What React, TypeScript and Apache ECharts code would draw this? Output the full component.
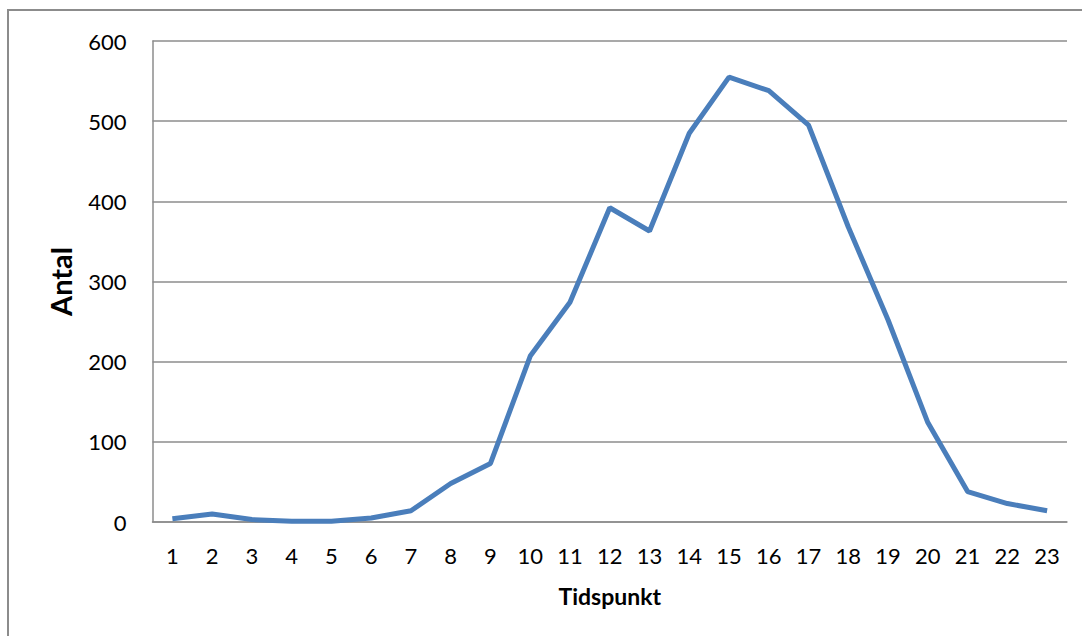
import React, { useEffect, useRef } from "react";
import * as echarts from "echarts";

const categories = ["1","2","3","4","5","6","7","8","9","10","11","12","13","14","15","16","17","18","19","20","21","22","23"];
const antal = [4, 10, 3, 1, 1, 5, 14, 48, 73, 207, 274, 392, 363, 485, 555, 538, 495, 368, 252, 124, 38, 23, 14];
const yTicks = { min: 0, max: 600, interval: 100 };

export default function App() {
  const ref = useRef<HTMLDivElement>(null);
  useEffect(() => {
    if (!ref.current) return;
    const chart = echarts.init(ref.current, null, { renderer: "svg" });
    const font = "Lato, 'Open Sans', sans-serif";
    chart.setOption({
      animation: false,
      backgroundColor: "#ffffff",
      graphic: [
        {
          type: "rect",
          shape: { x: 8, y: 10, width: 1200, height: 800 },
          style: { fill: "none", stroke: "#8c8c8c", lineWidth: 2 },
          silent: true,
        },
      ],
      grid: { left: 152.5, right: 15, top: 41, bottom: 114, containLabel: false },
      xAxis: {
        type: "category",
        data: categories,
        boundaryGap: true,
        name: "Tidspunkt",
        nameLocation: "middle",
        nameGap: 62,
        nameTextStyle: { fontFamily: font, fontSize: 23, fontWeight: "bold", color: "#000" },
        axisLine: { show: true, lineStyle: { color: "#8c8c8c", width: 1.5 } },
        axisTick: { show: false },
        axisLabel: { fontFamily: font, fontSize: 22, color: "#000", margin: 22, interval: 0 },
        splitLine: { show: false },
      },
      yAxis: {
        type: "value",
        min: yTicks.min,
        max: yTicks.max,
        interval: yTicks.interval,
        name: "Antal",
        nameLocation: "middle",
        nameGap: 78,
        nameTextStyle: { fontFamily: font, fontSize: 29, fontWeight: "bold", color: "#000" },
        axisLine: { show: true, lineStyle: { color: "#8c8c8c", width: 1.5 } },
        axisTick: { show: false },
        axisLabel: { fontFamily: font, fontSize: 22, color: "#000", margin: 26 },
        splitLine: { show: true, lineStyle: { color: "#8c8c8c", width: 1.5 } },
      },
      series: [
        {
          type: "line",
          data: antal,
          showSymbol: false,
          symbol: "none",
          lineStyle: { color: "#4a7ebb", width: 5 },
          itemStyle: { color: "#4a7ebb" },
        },
      ],
    });
    return () => chart.dispose();
  }, []);
  return (
    <div
      ref={ref}
      style={{ position: "fixed", left: 0, top: 0, width: 1082, height: 636 }}
    />
  );
}
